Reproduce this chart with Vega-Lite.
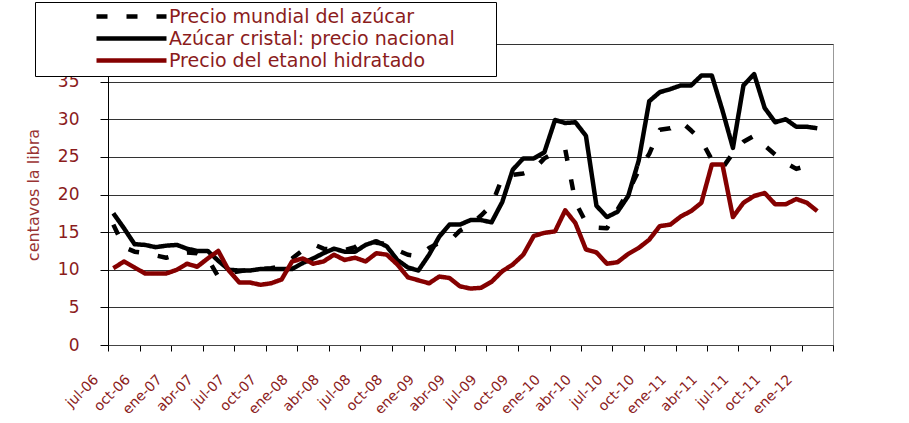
{
  "$schema": "https://vega.github.io/schema/vega-lite/v6.json",
  "width": 725,
  "height": 301,
  "autosize": "none",
  "padding": {"left": 108, "top": 44, "right": 76, "bottom": 78},
  "background": "white",
  "config": {
    "font": "DejaVu Sans",
    "view": {"stroke": "#999999", "strokeWidth": 1}
  },
  "data": {
    "values": [
      {"date": "2006-07-01", "Precio mundial del azúcar": 16.0, "Azúcar cristal: precio nacional": 17.5, "Precio del etanol hidratado": 10.2},
      {"date": "2006-08-01", "Precio mundial del azúcar": 13.0, "Azúcar cristal: precio nacional": 15.5, "Precio del etanol hidratado": 11.1},
      {"date": "2006-09-01", "Precio mundial del azúcar": 12.4, "Azúcar cristal: precio nacional": 13.4, "Precio del etanol hidratado": 10.3},
      {"date": "2006-10-01", "Precio mundial del azúcar": 12.2, "Azúcar cristal: precio nacional": 13.3, "Precio del etanol hidratado": 9.5},
      {"date": "2006-11-01", "Precio mundial del azúcar": 11.9, "Azúcar cristal: precio nacional": 13.0, "Precio del etanol hidratado": 9.5},
      {"date": "2006-12-01", "Precio mundial del azúcar": 11.6, "Azúcar cristal: precio nacional": 13.2, "Precio del etanol hidratado": 9.5},
      {"date": "2007-01-01", "Precio mundial del azúcar": 12.0, "Azúcar cristal: precio nacional": 13.3, "Precio del etanol hidratado": 10.0},
      {"date": "2007-02-01", "Precio mundial del azúcar": 12.3, "Azúcar cristal: precio nacional": 12.8, "Precio del etanol hidratado": 10.8},
      {"date": "2007-03-01", "Precio mundial del azúcar": 12.2, "Azúcar cristal: precio nacional": 12.5, "Precio del etanol hidratado": 10.4},
      {"date": "2007-04-01", "Precio mundial del azúcar": 11.5, "Azúcar cristal: precio nacional": 12.5, "Precio del etanol hidratado": 11.5},
      {"date": "2007-05-01", "Precio mundial del azúcar": 9.1, "Azúcar cristal: precio nacional": 11.2, "Precio del etanol hidratado": 12.5},
      {"date": "2007-06-01", "Precio mundial del azúcar": 9.6, "Azúcar cristal: precio nacional": 10.0, "Precio del etanol hidratado": 9.9},
      {"date": "2007-07-01", "Precio mundial del azúcar": 9.8, "Azúcar cristal: precio nacional": 9.9, "Precio del etanol hidratado": 8.3},
      {"date": "2007-08-01", "Precio mundial del azúcar": 10.0, "Azúcar cristal: precio nacional": 9.9, "Precio del etanol hidratado": 8.3},
      {"date": "2007-09-01", "Precio mundial del azúcar": 10.1, "Azúcar cristal: precio nacional": 10.1, "Precio del etanol hidratado": 8.0},
      {"date": "2007-10-01", "Precio mundial del azúcar": 10.2, "Azúcar cristal: precio nacional": 10.1, "Precio del etanol hidratado": 8.2},
      {"date": "2007-11-01", "Precio mundial del azúcar": 10.5, "Azúcar cristal: precio nacional": 10.1, "Precio del etanol hidratado": 8.7},
      {"date": "2007-12-01", "Precio mundial del azúcar": 11.5, "Azúcar cristal: precio nacional": 10.1, "Precio del etanol hidratado": 11.1},
      {"date": "2008-01-01", "Precio mundial del azúcar": 12.6, "Azúcar cristal: precio nacional": 10.9, "Precio del etanol hidratado": 11.5},
      {"date": "2008-02-01", "Precio mundial del azúcar": 13.4, "Azúcar cristal: precio nacional": 11.5, "Precio del etanol hidratado": 10.8},
      {"date": "2008-03-01", "Precio mundial del azúcar": 12.8, "Azúcar cristal: precio nacional": 12.2, "Precio del etanol hidratado": 11.1},
      {"date": "2008-04-01", "Precio mundial del azúcar": 12.7, "Azúcar cristal: precio nacional": 12.8, "Precio del etanol hidratado": 12.0},
      {"date": "2008-05-01", "Precio mundial del azúcar": 12.6, "Azúcar cristal: precio nacional": 12.4, "Precio del etanol hidratado": 11.3},
      {"date": "2008-06-01", "Precio mundial del azúcar": 13.0, "Azúcar cristal: precio nacional": 12.4, "Precio del etanol hidratado": 11.6},
      {"date": "2008-07-01", "Precio mundial del azúcar": 14.0, "Azúcar cristal: precio nacional": 13.3, "Precio del etanol hidratado": 11.1},
      {"date": "2008-08-01", "Precio mundial del azúcar": 13.6, "Azúcar cristal: precio nacional": 13.8, "Precio del etanol hidratado": 12.2},
      {"date": "2008-09-01", "Precio mundial del azúcar": 13.4, "Azúcar cristal: precio nacional": 13.1, "Precio del etanol hidratado": 12.0},
      {"date": "2008-10-01", "Precio mundial del azúcar": 12.6, "Azúcar cristal: precio nacional": 11.3, "Precio del etanol hidratado": 10.7},
      {"date": "2008-11-01", "Precio mundial del azúcar": 12.0, "Azúcar cristal: precio nacional": 10.3, "Precio del etanol hidratado": 9.0},
      {"date": "2008-12-01", "Precio mundial del azúcar": 11.8, "Azúcar cristal: precio nacional": 9.9, "Precio del etanol hidratado": 8.6},
      {"date": "2009-01-01", "Precio mundial del azúcar": 12.9, "Azúcar cristal: precio nacional": 12.0, "Precio del etanol hidratado": 8.2},
      {"date": "2009-02-01", "Precio mundial del azúcar": 13.6, "Azúcar cristal: precio nacional": 14.4, "Precio del etanol hidratado": 9.1},
      {"date": "2009-03-01", "Precio mundial del azúcar": 13.8, "Azúcar cristal: precio nacional": 16.0, "Precio del etanol hidratado": 8.9},
      {"date": "2009-04-01", "Precio mundial del azúcar": 15.2, "Azúcar cristal: precio nacional": 16.0, "Precio del etanol hidratado": 7.8},
      {"date": "2009-05-01", "Precio mundial del azúcar": 16.0, "Azúcar cristal: precio nacional": 16.6, "Precio del etanol hidratado": 7.5},
      {"date": "2009-06-01", "Precio mundial del azúcar": 17.2, "Azúcar cristal: precio nacional": 16.6, "Precio del etanol hidratado": 7.6},
      {"date": "2009-07-01", "Precio mundial del azúcar": 18.6, "Azúcar cristal: precio nacional": 16.3, "Precio del etanol hidratado": 8.4},
      {"date": "2009-08-01", "Precio mundial del azúcar": 22.2, "Azúcar cristal: precio nacional": 19.0, "Precio del etanol hidratado": 9.8},
      {"date": "2009-09-01", "Precio mundial del azúcar": 22.6, "Azúcar cristal: precio nacional": 23.3, "Precio del etanol hidratado": 10.7},
      {"date": "2009-10-01", "Precio mundial del azúcar": 22.8, "Azúcar cristal: precio nacional": 24.8, "Precio del etanol hidratado": 12.0},
      {"date": "2009-11-01", "Precio mundial del azúcar": 23.3, "Azúcar cristal: precio nacional": 24.8, "Precio del etanol hidratado": 14.5},
      {"date": "2009-12-01", "Precio mundial del azúcar": 24.8, "Azúcar cristal: precio nacional": 25.6, "Precio del etanol hidratado": 14.9},
      {"date": "2010-01-01", "Precio mundial del azúcar": 25.6, "Azúcar cristal: precio nacional": 29.9, "Precio del etanol hidratado": 15.1},
      {"date": "2010-02-01", "Precio mundial del azúcar": 26.0, "Azúcar cristal: precio nacional": 29.5, "Precio del etanol hidratado": 17.9},
      {"date": "2010-03-01", "Precio mundial del azúcar": 19.0, "Azúcar cristal: precio nacional": 29.6, "Precio del etanol hidratado": 16.2},
      {"date": "2010-04-01", "Precio mundial del azúcar": 16.3, "Azúcar cristal: precio nacional": 27.8, "Precio del etanol hidratado": 12.7},
      {"date": "2010-05-01", "Precio mundial del azúcar": 15.6, "Azúcar cristal: precio nacional": 18.5, "Precio del etanol hidratado": 12.3},
      {"date": "2010-06-01", "Precio mundial del azúcar": 15.5, "Azúcar cristal: precio nacional": 17.0, "Precio del etanol hidratado": 10.8},
      {"date": "2010-07-01", "Precio mundial del azúcar": 18.0, "Azúcar cristal: precio nacional": 17.7, "Precio del etanol hidratado": 11.0},
      {"date": "2010-08-01", "Precio mundial del azúcar": 20.3, "Azúcar cristal: precio nacional": 19.8, "Precio del etanol hidratado": 12.1},
      {"date": "2010-09-01", "Precio mundial del azúcar": 23.2, "Azúcar cristal: precio nacional": 24.5, "Precio del etanol hidratado": 12.9},
      {"date": "2010-10-01", "Precio mundial del azúcar": 25.4, "Azúcar cristal: precio nacional": 32.4, "Precio del etanol hidratado": 14.0},
      {"date": "2010-11-01", "Precio mundial del azúcar": 28.6, "Azúcar cristal: precio nacional": 33.6, "Precio del etanol hidratado": 15.8},
      {"date": "2010-12-01", "Precio mundial del azúcar": 28.8, "Azúcar cristal: precio nacional": 34.0, "Precio del etanol hidratado": 16.0},
      {"date": "2011-01-01", "Precio mundial del azúcar": 29.7, "Azúcar cristal: precio nacional": 34.5, "Precio del etanol hidratado": 17.1},
      {"date": "2011-02-01", "Precio mundial del azúcar": 28.5, "Azúcar cristal: precio nacional": 34.5, "Precio del etanol hidratado": 17.8},
      {"date": "2011-03-01", "Precio mundial del azúcar": 27.2, "Azúcar cristal: precio nacional": 35.8, "Precio del etanol hidratado": 18.9},
      {"date": "2011-04-01", "Precio mundial del azúcar": 24.6, "Azúcar cristal: precio nacional": 35.8, "Precio del etanol hidratado": 24.0},
      {"date": "2011-05-01", "Precio mundial del azúcar": 23.5, "Azúcar cristal: precio nacional": 31.2, "Precio del etanol hidratado": 24.0},
      {"date": "2011-06-01", "Precio mundial del azúcar": 25.5, "Azúcar cristal: precio nacional": 26.2, "Precio del etanol hidratado": 17.0},
      {"date": "2011-07-01", "Precio mundial del azúcar": 27.0, "Azúcar cristal: precio nacional": 34.5, "Precio del etanol hidratado": 18.9},
      {"date": "2011-08-01", "Precio mundial del azúcar": 27.8, "Azúcar cristal: precio nacional": 36.0, "Precio del etanol hidratado": 19.8},
      {"date": "2011-09-01", "Precio mundial del azúcar": 26.5, "Azúcar cristal: precio nacional": 31.5, "Precio del etanol hidratado": 20.2},
      {"date": "2011-10-01", "Precio mundial del azúcar": 25.3, "Azúcar cristal: precio nacional": 29.6, "Precio del etanol hidratado": 18.7},
      {"date": "2011-11-01", "Precio mundial del azúcar": 24.2, "Azúcar cristal: precio nacional": 30.0, "Precio del etanol hidratado": 18.7},
      {"date": "2011-12-01", "Precio mundial del azúcar": 23.4, "Azúcar cristal: precio nacional": 29.0, "Precio del etanol hidratado": 19.4},
      {"date": "2012-01-01", "Precio mundial del azúcar": 23.8, "Azúcar cristal: precio nacional": 29.0, "Precio del etanol hidratado": 18.9},
      {"date": "2012-02-01", "Precio mundial del azúcar": 24.5, "Azúcar cristal: precio nacional": 28.8, "Precio del etanol hidratado": 17.8}
    ]
  },
  "transform": [
    {"fold": ["Precio mundial del azúcar", "Azúcar cristal: precio nacional", "Precio del etanol hidratado"], "as": ["serie", "valor"]}
  ],
  "mark": {"type": "line", "strokeWidth": 4.5, "strokeJoin": "round", "strokeCap": "butt", "clip": true},
  "encoding": {
    "x": {
      "field": "date",
      "type": "temporal",
      "timeUnit": "utcyearmonth",
      "bandPosition": 0.5,
      "scale": {
        "type": "utc",
        "nice": false,
        "domain": [
          {"year": 2006, "month": 7, "date": 1, "utc": true},
          {"year": 2012, "month": 4, "date": 1, "utc": true}
        ]
      },
      "axis": {
        "title": null,
        "grid": false,
        "values": [
          {"year": 2006, "month": 7, "date": 1, "utc": true},
          {"year": 2006, "month": 10, "date": 1, "utc": true},
          {"year": 2007, "month": 1, "date": 1, "utc": true},
          {"year": 2007, "month": 4, "date": 1, "utc": true},
          {"year": 2007, "month": 7, "date": 1, "utc": true},
          {"year": 2007, "month": 10, "date": 1, "utc": true},
          {"year": 2008, "month": 1, "date": 1, "utc": true},
          {"year": 2008, "month": 4, "date": 1, "utc": true},
          {"year": 2008, "month": 7, "date": 1, "utc": true},
          {"year": 2008, "month": 10, "date": 1, "utc": true},
          {"year": 2009, "month": 1, "date": 1, "utc": true},
          {"year": 2009, "month": 4, "date": 1, "utc": true},
          {"year": 2009, "month": 7, "date": 1, "utc": true},
          {"year": 2009, "month": 10, "date": 1, "utc": true},
          {"year": 2010, "month": 1, "date": 1, "utc": true},
          {"year": 2010, "month": 4, "date": 1, "utc": true},
          {"year": 2010, "month": 7, "date": 1, "utc": true},
          {"year": 2010, "month": 10, "date": 1, "utc": true},
          {"year": 2011, "month": 1, "date": 1, "utc": true},
          {"year": 2011, "month": 4, "date": 1, "utc": true},
          {"year": 2011, "month": 7, "date": 1, "utc": true},
          {"year": 2011, "month": 10, "date": 1, "utc": true},
          {"year": 2012, "month": 1, "date": 1, "utc": true},
          {"year": 2012, "month": 4, "date": 1, "utc": true}
        ],
        "labelExpr": "utcyear(datum.value) == 2012 && utcmonth(datum.value) > 2 ? '' : ['ene','feb','mar','abr','may','jun','jul','ago','sep','oct','nov','dic'][utcmonth(datum.value)] + '-' + utcFormat(datum.value, '%y')",
        "labelAngle": -45,
        "labelAlign": "right",
        "labelBaseline": "middle",
        "labelPadding": 26,
        "labelOffset": -12,
        "labelFontSize": 14,
        "labelColor": "#8B1C1C",
        "labelOverlap": false,
        "labelBound": false,
        "labelFlush": false,
        "ticks": true,
        "tickSize": 6,
        "tickWidth": 1,
        "tickColor": "#000000",
        "domainColor": "#444444",
        "domainWidth": 1
      }
    },
    "y": {
      "field": "valor",
      "type": "quantitative",
      "scale": {"domain": [0, 40], "nice": false},
      "axis": {
        "title": "centavos la libra",
        "titleColor": "#993333",
        "titleFontSize": 16,
        "titleFontWeight": "normal",
        "titlePadding": 16,
        "values": [0, 5, 10, 15, 20, 25, 30, 35, 40],
        "labelFontSize": 17,
        "labelColor": "#8B1C1C",
        "labelPadding": 21,
        "ticks": true,
        "tickSize": 8,
        "tickWidth": 1,
        "tickColor": "#000000",
        "domainColor": "#000000",
        "gridColor": "#333333",
        "gridWidth": 1
      }
    },
    "color": {
      "field": "serie",
      "type": "nominal",
      "scale": {
        "domain": ["Precio mundial del azúcar", "Azúcar cristal: precio nacional", "Precio del etanol hidratado"],
        "range": ["#000000", "#000000", "#850000"]
      },
      "legend": {
        "title": "\u00a0",
        "titleOrient": "right",
        "titlePadding": 36,
        "titleFontSize": 10,
        "orient": "none",
        "legendX": -73,
        "legendY": -42,
        "fillColor": "white",
        "strokeColor": "#000000",
        "padding": 5,
        "symbolType": "M-7,0H7",
        "symbolSize": 100,
        "symbolStrokeWidth": 4.5,
        "symbolOffset": 82,
        "labelOffset": 28,
        "rowPadding": 2,
        "labelFontSize": 19,
        "labelColor": "#8B1C1C",
        "labelLimit": 600
      }
    },
    "strokeDash": {
      "field": "serie",
      "type": "nominal",
      "scale": {
        "domain": ["Precio mundial del azúcar", "Azúcar cristal: precio nacional", "Precio del etanol hidratado"],
        "range": [[11, 19], [1, 0], [1, 0]]
      },
      "legend": {
        "title": "\u00a0",
        "titleOrient": "right",
        "titlePadding": 36,
        "titleFontSize": 10,
        "orient": "none",
        "legendX": -73,
        "legendY": -42,
        "fillColor": "white",
        "strokeColor": "#000000",
        "padding": 5,
        "symbolType": "M-7,0H7",
        "symbolSize": 100,
        "symbolStrokeWidth": 4.5,
        "symbolOffset": 82,
        "labelOffset": 28,
        "rowPadding": 2,
        "labelFontSize": 19,
        "labelColor": "#8B1C1C",
        "labelLimit": 600
      }
    }
  }
}
